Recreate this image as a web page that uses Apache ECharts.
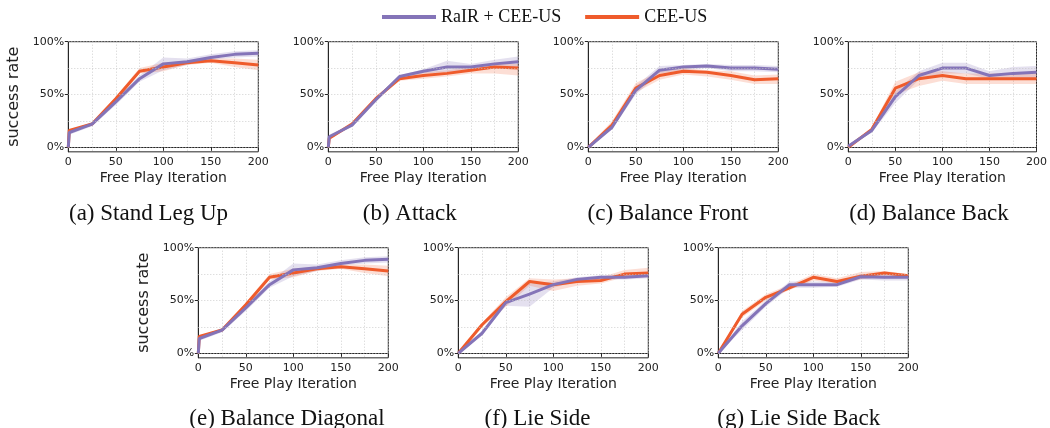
<!DOCTYPE html>
<html>
<head>
<meta charset="utf-8">
<script src="https://cdn.jsdelivr.net/npm/echarts@6/dist/echarts.min.js"></script>
<style>html,body{margin:0;padding:0;background:#fff;}#c{width:1050px;height:428px;}</style>
</head>
<body>
<div id="c"></div>
<script>
// ---------- data ----------
const xs = [0, 25, 50, 75, 100, 125, 150, 175, 200];
const xsStart = [0, 1, 25, 50, 75, 100, 125, 150, 175, 200];
const seriesNames = ['RaIR + CEE-US', 'CEE-US'];
const panelTitles = ['(a) Stand Leg Up', '(b) Attack', '(c) Balance Front', '(d) Balance Back',
                     '(e) Balance Diagonal', '(f) Lie Side', '(g) Lie Side Back'];
const yTickLabels = [0, 0.5, 1];
const yGridValues = [0, 0.25, 0.5, 0.75, 1];

// (a) Stand Leg Up  (x = xsStart)
const standLegRair   = [0.00, 0.14, 0.22, 0.43, 0.65, 0.79, 0.81, 0.85, 0.88, 0.89];
const standLegRairLo = [0.00, 0.12, 0.20, 0.40, 0.62, 0.73, 0.78, 0.83, 0.85, 0.86];
const standLegRairHi = [0.00, 0.16, 0.24, 0.46, 0.68, 0.85, 0.84, 0.88, 0.91, 0.92];
const standLegCee    = [0.00, 0.16, 0.22, 0.46, 0.72, 0.76, 0.80, 0.82, 0.80, 0.78];
const standLegCeeLo  = [0.00, 0.14, 0.21, 0.44, 0.70, 0.72, 0.78, 0.80, 0.76, 0.73];
const standLegCeeHi  = [0.00, 0.17, 0.23, 0.48, 0.75, 0.80, 0.82, 0.84, 0.84, 0.83];
// (b) Attack  (x = xsStart)
const attackRair   = [0.00, 0.10, 0.21, 0.45, 0.67, 0.72, 0.76, 0.76, 0.79, 0.81];
const attackRairLo = [0.00, 0.08, 0.20, 0.43, 0.65, 0.70, 0.71, 0.73, 0.76, 0.76];
const attackRairHi = [0.00, 0.12, 0.22, 0.47, 0.68, 0.74, 0.82, 0.79, 0.83, 0.86];
const attackCee    = [0.00, 0.085, 0.22, 0.46, 0.65, 0.68, 0.70, 0.73, 0.76, 0.75];
const attackCeeLo  = [0.00, 0.07, 0.21, 0.44, 0.63, 0.65, 0.67, 0.70, 0.70, 0.68];
const attackCeeHi  = [0.00, 0.10, 0.24, 0.48, 0.67, 0.71, 0.73, 0.76, 0.79, 0.79];
// (c) Balance Front
const frontRair   = [0.00, 0.19, 0.54, 0.73, 0.76, 0.77, 0.75, 0.75, 0.74];
const frontRairLo = [0.00, 0.17, 0.50, 0.70, 0.73, 0.75, 0.72, 0.72, 0.71];
const frontRairHi = [0.01, 0.21, 0.58, 0.77, 0.78, 0.79, 0.78, 0.78, 0.77];
const frontCee    = [0.00, 0.21, 0.56, 0.68, 0.72, 0.71, 0.68, 0.64, 0.65];
const frontCeeLo  = [0.00, 0.18, 0.52, 0.64, 0.69, 0.67, 0.64, 0.60, 0.60];
const frontCeeHi  = [0.01, 0.25, 0.61, 0.72, 0.75, 0.73, 0.72, 0.68, 0.69];
// (d) Balance Back
const backRair   = [0.01, 0.16, 0.48, 0.68, 0.75, 0.75, 0.68, 0.70, 0.71];
const backRairLo = [0.00, 0.14, 0.42, 0.64, 0.70, 0.70, 0.65, 0.64, 0.65];
const backRairHi = [0.02, 0.18, 0.53, 0.72, 0.80, 0.80, 0.72, 0.76, 0.77];
const backCee    = [0.00, 0.17, 0.56, 0.65, 0.68, 0.65, 0.65, 0.65, 0.65];
const backCeeLo  = [0.00, 0.15, 0.50, 0.58, 0.63, 0.60, 0.60, 0.60, 0.60];
const backCeeHi  = [0.01, 0.19, 0.62, 0.71, 0.72, 0.70, 0.70, 0.70, 0.70];
// (e) Balance Diagonal  (x = xsStart)
const diagRair   = [0.00, 0.14, 0.22, 0.43, 0.65, 0.79, 0.81, 0.85, 0.88, 0.89];
const diagRairLo = [0.00, 0.12, 0.20, 0.40, 0.62, 0.73, 0.78, 0.83, 0.85, 0.86];
const diagRairHi = [0.00, 0.16, 0.24, 0.46, 0.68, 0.85, 0.84, 0.88, 0.91, 0.92];
const diagCee    = [0.00, 0.16, 0.22, 0.46, 0.72, 0.76, 0.80, 0.82, 0.80, 0.78];
const diagCeeLo  = [0.00, 0.14, 0.21, 0.44, 0.70, 0.72, 0.78, 0.80, 0.76, 0.73];
const diagCeeHi  = [0.00, 0.17, 0.23, 0.48, 0.75, 0.80, 0.82, 0.84, 0.84, 0.83];
// (f) Lie Side
const lieRair   = [0.00, 0.19, 0.48, 0.56, 0.65, 0.70, 0.72, 0.72, 0.735];
const lieRairLo = [0.00, 0.17, 0.45, 0.44, 0.62, 0.68, 0.70, 0.70, 0.71];
const lieRairHi = [0.01, 0.21, 0.51, 0.66, 0.68, 0.72, 0.74, 0.74, 0.75];
const lieCee    = [0.00, 0.27, 0.49, 0.68, 0.65, 0.68, 0.69, 0.75, 0.76];
const lieCeeLo  = [0.00, 0.25, 0.44, 0.64, 0.59, 0.64, 0.66, 0.72, 0.72];
const lieCeeHi  = [0.01, 0.29, 0.53, 0.71, 0.70, 0.71, 0.72, 0.79, 0.81];
// (g) Lie Side Back
const lieBackRair   = [0.00, 0.26, 0.47, 0.65, 0.65, 0.65, 0.725, 0.72, 0.72];
const lieBackRairLo = [0.00, 0.22, 0.44, 0.62, 0.62, 0.63, 0.70, 0.69, 0.69];
const lieBackRairHi = [0.01, 0.30, 0.50, 0.68, 0.68, 0.68, 0.75, 0.75, 0.75];
const lieBackCee    = [0.00, 0.37, 0.53, 0.62, 0.72, 0.68, 0.73, 0.76, 0.735];
const lieBackCeeLo  = [0.00, 0.34, 0.50, 0.60, 0.69, 0.66, 0.70, 0.73, 0.72];
const lieBackCeeHi  = [0.01, 0.40, 0.56, 0.65, 0.75, 0.71, 0.77, 0.78, 0.75];

const panelX = [xsStart, xsStart, xs, xs, xsStart, xs, xs];
const panelData = [
  [[standLegRair, standLegRairLo, standLegRairHi], [standLegCee, standLegCeeLo, standLegCeeHi]],
  [[attackRair, attackRairLo, attackRairHi], [attackCee, attackCeeLo, attackCeeHi]],
  [[frontRair, frontRairLo, frontRairHi], [frontCee, frontCeeLo, frontCeeHi]],
  [[backRair, backRairLo, backRairHi], [backCee, backCeeLo, backCeeHi]],
  [[diagRair, diagRairLo, diagRairHi], [diagCee, diagCeeLo, diagCeeHi]],
  [[lieRair, lieRairLo, lieRairHi], [lieCee, lieCeeLo, lieCeeHi]],
  [[lieBackRair, lieBackRairLo, lieBackRairHi], [lieBackCee, lieBackCeeLo, lieBackCeeHi]]
];

// ---------- layout & style ----------
const colors = ['#8474B8', '#EF5B2B'];
const bandColors = ['rgba(132,116,184,0.22)', 'rgba(239,91,43,0.20)'];
const YMIN = -0.043;
const gridPos = [
  {left: 68.3, top: 41.7}, {left: 328.3, top: 41.7}, {left: 588.3, top: 41.7}, {left: 848.3, top: 41.7},
  {left: 198.3, top: 247.7}, {left: 458.3, top: 247.7}, {left: 718.3, top: 247.7}
];
const titlePos = [[148.5, 214], [409.7, 214], [668, 214], [929, 214], [287, 419], [537.5, 419], [798.8, 419]];
const PW = 190, PH = 105.6 * (1 - YMIN);
const tickFont = {fontFamily: 'DejaVu Sans', fontSize: 11, color: '#222'};
const gridLineStyle = {type: [1, 2], color: '#c4c4c4', width: 0.8};

function bandRenderer(px, lo, hi, color) {
  return function (params, api) {
    if (params.dataIndex !== 0) return null;
    const pts = [];
    for (let j = 0; j < px.length; j++) pts.push(api.coord([px[j], lo[j]]));
    for (let j = px.length - 1; j >= 0; j--) pts.push(api.coord([px[j], hi[j]]));
    return {type: 'polygon', shape: {points: pts}, style: {fill: color}, silent: true};
  };
}

const grids = [], xAxes = [], yAxes = [], series = [], graphics = [];
gridPos.forEach((g, i) => {
  const px = panelX[i];
  grids.push({left: g.left, top: g.top, width: PW, height: PH, show: true,
              borderColor: '#262626', borderWidth: 1, backgroundColor: 'transparent'});
  xAxes.push({
    type: 'value', gridIndex: i, min: 0, max: 200, interval: 50,
    axisLine: {show: true, lineStyle: {color: '#262626', width: 1}},
    axisTick: {show: true, length: 3.5, lineStyle: {color: '#262626'}},
    axisLabel: Object.assign({margin: 5}, tickFont),
    splitLine: {show: true, lineStyle: gridLineStyle},
    minorTick: {show: false, splitNumber: 2},
    minorSplitLine: {show: true, lineStyle: gridLineStyle},
    name: 'Free Play Iteration', nameLocation: 'middle', nameGap: 20,
    nameTextStyle: {fontFamily: 'DejaVu Sans', fontSize: 14, color: '#222'}
  });
  const ya = {
    type: 'value', gridIndex: i, min: YMIN, max: 1,
    axisLine: {show: true, onZero: false, lineStyle: {color: '#262626', width: 1}},
    axisTick: {show: true, length: 3.5, customValues: yTickLabels, lineStyle: {color: '#262626'}},
    axisLabel: Object.assign({margin: 4, customValues: yTickLabels,
                              formatter: v => Math.round(v * 100) + '%'}, tickFont),
    splitLine: {show: false}
  };
  if (i === 0 || i === 4) {
    ya.name = 'success rate'; ya.nameLocation = 'middle'; ya.nameGap = 46;
    ya.nameTextStyle = {fontFamily: 'DejaVu Sans', fontSize: 16, color: '#222'};
  }
  yAxes.push(ya);

  // y grid lines through the y scale
  series.push({
    type: 'line', xAxisIndex: i, yAxisIndex: i, data: [], silent: true, z: 1,
    markLine: {silent: true, symbol: 'none', label: {show: false}, animation: false,
               lineStyle: gridLineStyle, data: yGridValues.map(v => ({yAxis: v}))}
  });

  panelData[i].forEach((s, k) => {
    const [mean, lo, hi] = s;
    series.push({
      type: 'custom', name: 'band' + i + k, xAxisIndex: i, yAxisIndex: i, z: 2,
      data: px.map((x, j) => [x, lo[j], hi[j]]), encode: {x: 0, y: [1, 2]},
      renderItem: bandRenderer(px, lo, hi, bandColors[k]), silent: true, animation: false
    });
  });
  [1, 0].forEach(k => {
    series.push({
      type: 'line', name: seriesNames[k], xAxisIndex: i, yAxisIndex: i,
      data: px.map((x, j) => [x, panelData[i][k][0][j]]),
      symbol: 'none', lineStyle: {color: colors[k], width: 3}, itemStyle: {color: colors[k]},
      z: 3, animation: false
    });
  });

  graphics.push({
    type: 'text', x: titlePos[i][0], y: titlePos[i][1],
    style: {text: panelTitles[i], textAlign: 'center', textVerticalAlign: 'middle',
            fontFamily: 'Liberation Serif', fontSize: 23, fill: '#111'}
  });
});

const chart = echarts.init(document.getElementById('c'));
chart.setOption({
  animation: false,
  backgroundColor: '#fff',
  legend: {
    data: seriesNames, left: 377, top: 3, icon: 'rect', itemWidth: 54, itemHeight: 4,
    itemGap: 24, textStyle: {fontFamily: 'Liberation Serif', fontSize: 18, color: '#111'},
    selectedMode: false
  },
  grid: grids, xAxis: xAxes, yAxis: yAxes, series: series, graphic: graphics
});
</script>
</body>
</html>
